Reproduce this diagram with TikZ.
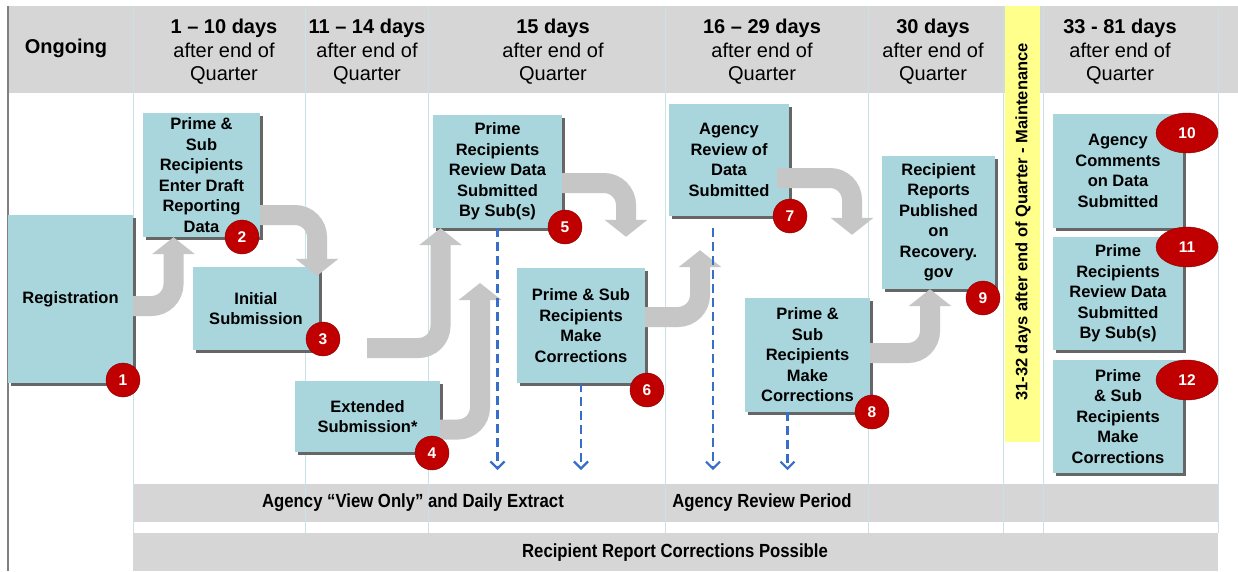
\documentclass[tikz,border=0pt]{standalone}
\usepackage{fontspec}
\setmainfont{Liberation Sans}
\newfontfamily\narrowfont[FakeStretch=0.88]{Liberation Sans}
\usetikzlibrary{arrows.meta,shapes.geometric,shadows}

\definecolor{stagefill}{RGB}{168,214,220}
\definecolor{headgray}{RGB}{214,214,214}
\definecolor{colline}{RGB}{200,226,230}
\definecolor{badgered}{RGB}{192,0,0}
\definecolor{flowgray}{RGB}{198,198,198}
\definecolor{dashblue}{RGB}{55,110,200}
\definecolor{mainyellow}{RGB}{255,255,140}

\tikzset{
  stagebox/.style={fill=stagefill, inner sep=0pt, align=center,
    font=\fontsize{16.5}{20.5}\selectfont\bfseries,
    drop shadow={shadow xshift=3pt, shadow yshift=-3pt, fill=black!60, opacity=1}},
  badge/.style={circle, fill=badgered, draw=badgered!70!black, minimum size=34pt,
    inner sep=0pt, text=white, font=\fontsize{15.5}{15.5}\selectfont\bfseries},
  bigbadge/.style={badge, ellipse, minimum width=62pt, minimum height=40pt},
  flowarrow/.style={draw=flowgray, line width=20pt, rounded corners=22pt,
    -{Triangle[width=42pt,length=17pt]}},
  dasharrow/.style={draw=dashblue, line width=2.2pt, dash pattern=on 9pt off 5pt,
    -{Straight Barb[length=7pt,width=14pt]}},
  headtext/.style={align=center, font=\fontsize{20}{23.5}\selectfont},
  bandtext/.style={font=\fontsize{19}{19}\narrowfont\bfseries}
}

\begin{document}
\begin{tikzpicture}[x=1pt,y=-1pt]
  \useasboundingbox (0,0) rectangle (1238,571);
  \fill[white] (0,0) rectangle (1238,571);

  \fill[headgray] (8,6) rectangle (1238,93);
  \fill[headgray] (133,484) rectangle (1218,522);
  \fill[mainyellow] (1005,6) rectangle (1040,442);
  \foreach \x in {133,305,428,665,868,1003,1043,1218}
    \draw[colline, line width=1pt] (\x,6) -- (\x,533);
  \fill[headgray] (133,533) rectangle (1218,571);
  \draw[gray, line width=1.5pt] (8,6) -- (8,571);

  \node[headtext] (hongo) at (66,48) {\textbf{Ongoing}};
  \node[headtext] (hqone) at (224,52) {\textbf{1 – 10 days}\\after end of\\Quarter};
  \node[headtext] (hqtwo) at (367,52) {\textbf{11 – 14 days}\\after end of\\Quarter};
  \node[headtext] (hqthree) at (553,52) {\textbf{15 days}\\after end of\\Quarter};
  \node[headtext] (hqfour) at (762,52) {\textbf{16 – 29 days}\\after end of\\Quarter};
  \node[headtext] (hqfive) at (933,52) {\textbf{30 days}\\after end of\\Quarter};
  \node[headtext] (hqsix) at (1120,52) {\textbf{33 - 81 days}\\after end of\\Quarter};
  \node[rotate=90, font=\fontsize{16.5}{16.5}\selectfont\bfseries] (maint) at (1023,222)
    {31-32 days after end of Quarter - Maintenance};

  \node[stagebox, minimum width=125pt, minimum height=168pt] (reg) at (70.5,299) {Registration};
  \node[stagebox, minimum width=117pt, minimum height=124pt] (draft) at (201.5,175)
    {Prime \&\\Sub\\Recipients\\Enter Draft\\Reporting\\Data};
  \node[stagebox, minimum width=126pt, minimum height=83pt] (init) at (256,308.5)
    {Initial\\Submission};
  \node[stagebox, minimum width=145pt, minimum height=71pt] (ext) at (367.5,416.5)
    {Extended\\Submission*};
  \node[stagebox, minimum width=129pt, minimum height=113pt] (review) at (497.5,171.5)
    {Prime\\Recipients\\Review Data\\Submitted\\By Sub(s)};
  \node[stagebox, minimum width=128pt, minimum height=115pt] (fixone) at (581,325.5)
    {Prime \& Sub\\Recipients\\Make\\Corrections};
  \node[stagebox, minimum width=120pt, minimum height=112pt] (agency) at (729,160)
    {Agency\\Review of\\Data\\Submitted};
  \node[stagebox, minimum width=125pt, minimum height=114pt] (fixtwo) at (807.5,355)
    {Prime \&\\Sub\\Recipients\\Make\\Corrections};
  \node[stagebox, minimum width=113pt, minimum height=133pt] (pub) at (938.5,222.5)
    {Recipient\\Reports\\Published\\on\\Recovery.\\gov};
  \node[stagebox, minimum width=130pt, minimum height=114pt] (comm) at (1118,171)
    {Agency\\Comments\\on Data\\Submitted};
  \node[stagebox, minimum width=130pt, minimum height=113pt] (revtwo) at (1118,293.5)
    {Prime\\Recipients\\Review Data\\Submitted\\By Sub(s)};
  \node[stagebox, minimum width=130pt, minimum height=113pt] (fixthree) at (1118,416.5)
    {Prime\\\& Sub\\Recipients\\Make\\Corrections};

  \coordinate (afree) at (367,348);
  \coordinate (bfree) at (480,283);
  \draw[flowarrow] ([yshift=-7pt]reg.east) -| ([xshift=-28pt]draft.south);
  \draw[flowarrow] ([yshift=-40pt]draft.east) -| ([xshift=61pt,yshift=-9pt]init.north);
  \draw[flowarrow] (afree) -| ([xshift=-57pt]review.south);
  \draw[flowarrow] ([yshift=-13pt]ext.east) -| (bfree);
  \draw[flowarrow] ([yshift=-11.5pt]review.east) -| ([xshift=45pt,yshift=31pt]fixone.north);
  \draw[flowarrow] ([yshift=8.5pt]fixone.east) -| ([xshift=-29pt,yshift=-34pt]agency.south);
  \draw[flowarrow] ([xshift=-12pt,yshift=-18pt]agency.east) -| ([xshift=44.5pt,yshift=63pt]fixtwo.north);
  \draw[flowarrow] ([yshift=2pt]fixtwo.east) -| ([xshift=-8.5pt]pub.south);

  \draw[dasharrow] (review.south) -- (review.south |- 0,470);
  \draw[dasharrow] (fixone.south) -- (fixone.south |- 0,470);
  \draw[dasharrow] ([xshift=-16pt,yshift=-12pt]agency.south) -- ++(0,242);
  \draw[dasharrow] ([xshift=-20pt]fixtwo.south) -- ++(0,58);

  \node[badge] (nbone) at (123,380) {1};
  \node[badge] (nbtwo) at (242,237) {2};
  \node[badge] (nbthree) at (323,339) {3};
  \node[badge] (nbfour) at (432,453) {4};
  \node[badge] (nbfive) at (565,227) {5};
  \node[badge] (nbsix) at (647,390) {6};
  \node[badge] (nbseven) at (790,216) {7};
  \node[badge] (nbeight) at (872,412) {8};
  \node[badge] (nbnine) at (983,298) {9};
  \node[bigbadge] (nbten) at (1187,133) {10};
  \node[bigbadge] (nbeleven) at (1187,247) {11};
  \node[bigbadge] (nbtwelve) at (1187,380) {12};

  \node[bandtext] (viewonly) at (413,503) {Agency “View Only” and Daily Extract};
  \node[bandtext] (reviewper) at (762,503) {Agency Review Period};
  \node[bandtext] (corrposs) at (675,553) {Recipient Report Corrections Possible};
\end{tikzpicture}
\end{document}
